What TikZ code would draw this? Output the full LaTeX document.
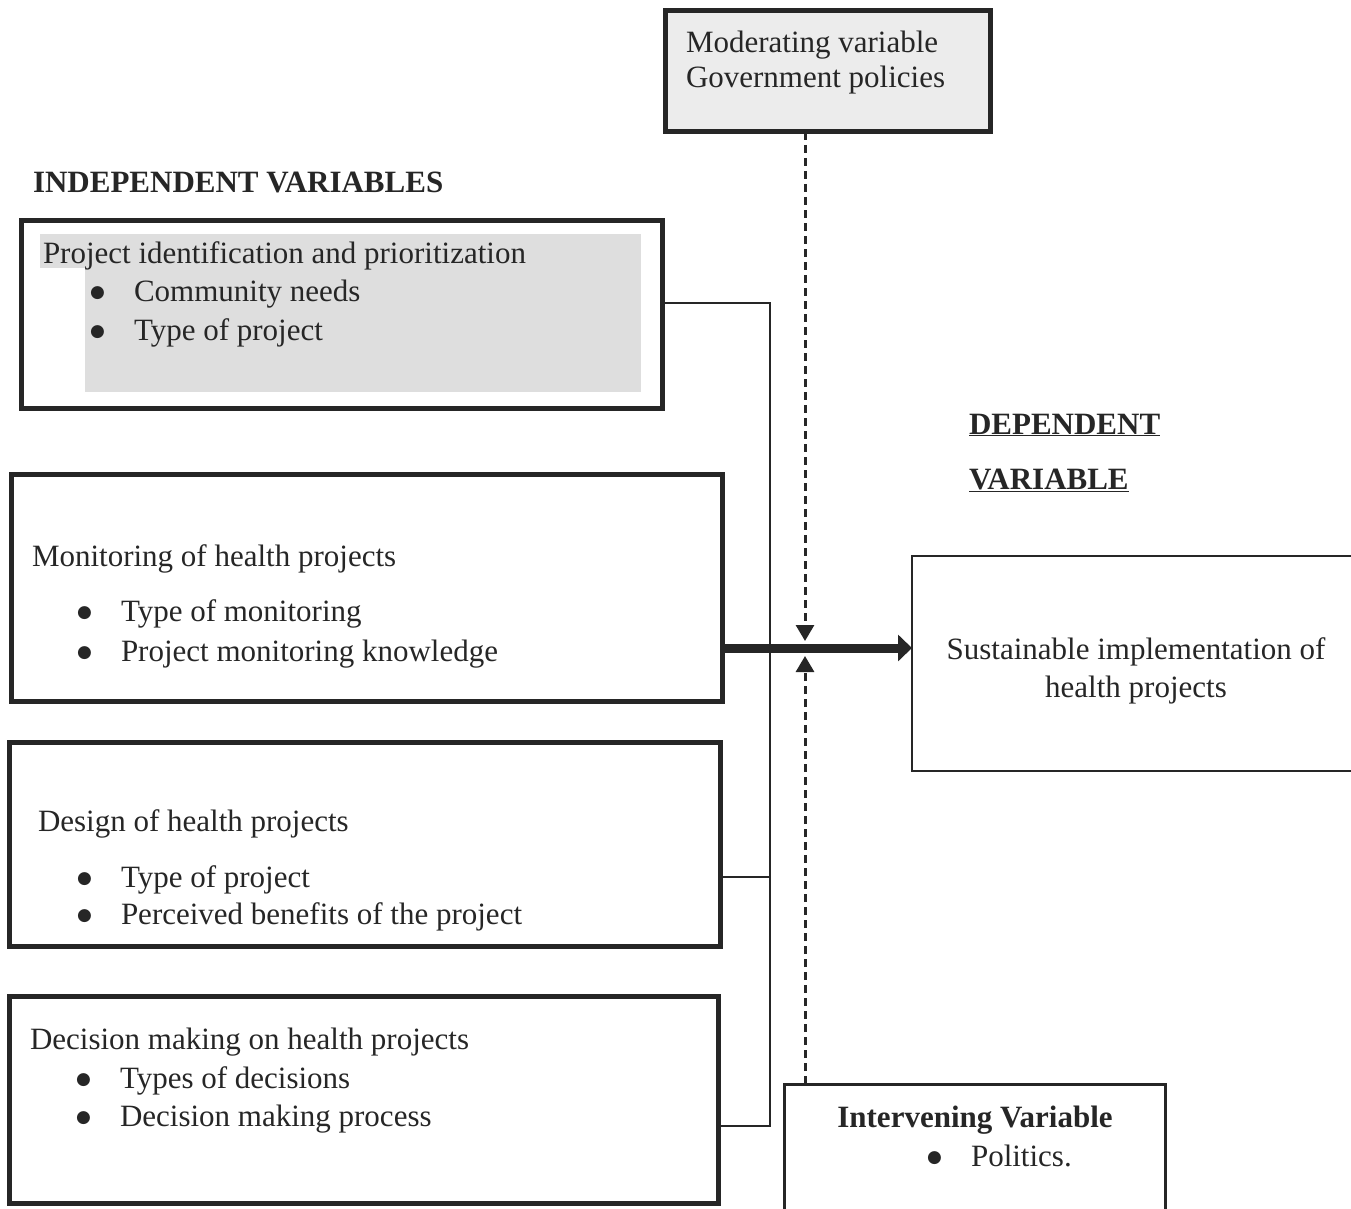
\documentclass[tikz,border=0pt]{standalone}
\usepackage{fontspec}
\setmainfont{Liberation Serif}
\newfontfamily\symfont{DejaVu Sans}
\usetikzlibrary{arrows.meta}
\definecolor{ink}{HTML}{262626}
\definecolor{modfill}{HTML}{ECECEC}
\definecolor{panelgray}{HTML}{DEDEDE}
\newcommand{\bitem}[1]{\makebox[44pt][l]{\raisebox{4pt}{\symfont\fontsize{17}{17}\selectfont ●}}#1}
\tikzset{
  txt/.style={anchor=base west},
  heavybox/.style={draw=ink, line width=5pt},
  lightbox/.style={draw=ink, line width=2.5pt},
  conn/.style={draw=ink, line width=2pt},
  dashline/.style={draw=ink, line width=3pt, dash pattern=on 8pt off 5pt},
  bigarrow/.style={draw=ink, line width=9pt, -{Triangle[width=26pt,length=14pt]}},
  smalltip/.style={-{Triangle[width=18pt,length=16pt]}}
}
\begin{document}
\begin{tikzpicture}[x=1pt,y=-1pt,
  every node/.style={inner sep=0pt, outer sep=0pt, text=ink, font=\fontsize{31}{37}\selectfont}]
\useasboundingbox (0,0) rectangle (1351,1209);

% shading of first box
\fill[panelgray] (40,234) rectangle (641,268);
\fill[panelgray] (85,234) rectangle (641,392);

% boxes
\node[heavybox, fill=modfill, minimum width=325pt, minimum height=121pt] (mod) at (827.5,71.5) {};
\node[heavybox, minimum width=641pt, minimum height=188pt] (b1) at (341.5,314) {};
\node[heavybox, minimum width=711pt, minimum height=227pt] (b2) at (366.5,587.5) {};
\node[heavybox, minimum width=711pt, minimum height=204pt] (b3) at (364.5,844) {};
\node[heavybox, minimum width=709pt, minimum height=207pt] (b4) at (363.5,1099.5) {};
\node[lightbox, minimum width=453pt, minimum height=215pt] (b5) at (1138.5,663.5) {};
\node[lightbox, line width=3pt, minimum width=381pt, minimum height=136pt] (b6) at (974.5,1152) {};

% connectors
\coordinate (j1) at (770,303);
\coordinate (j3) at (770,877);
\coordinate (j4) at (770,1126);
\draw[conn] (b1.east |- j1) -- (j1) -- (j4) -- (b4.east |- j4);
\draw[conn] (b3.east |- j3) -- (j3);

\coordinate (ay) at (0,648);
\draw[bigarrow] (b2.east |- ay) -- (b5.west |- ay);

\coordinate (dx) at (805,0);
\coordinate (tipT) at (805,641);
\coordinate (tipB) at (805,656);
\draw[dashline, smalltip] (mod.south -| dx) -- (tipT);
\draw[dashline, smalltip] (b6.north -| dx) -- (tipB);

% texts
\node[txt] (m1) at (686,53) {Moderating variable};
\node[txt] (m2) at (686,88) {Government policies};

\node[txt, font=\fontsize{31}{37}\selectfont\bfseries] (indep) at (33,193) {INDEPENDENT VARIABLES};

\node[txt] (t1) at (43,263) {Project identification and prioritization};
\node[txt] (t1a) at (90,301) {\bitem{Community needs}};
\node[txt] (t1b) at (90,340) {\bitem{Type of project}};

\node[txt, font=\fontsize{31}{37}\selectfont\bfseries] (dep1) at (969,434) {\underline{DEPENDENT}};
\node[txt, font=\fontsize{31}{37}\selectfont\bfseries] (dep2) at (969,489) {\underline{VARIABLE}};

\node[txt] (t2) at (32,566) {Monitoring of health projects};
\node[txt] (t2a) at (77,621) {\bitem{Type of monitoring}};
\node[txt] (t2b) at (77,661) {\bitem{Project monitoring knowledge}};

\node[anchor=base] (t5a) at (1136,659) {Sustainable implementation of};
\node[anchor=base] (t5b) at (1136,697) {health projects};

\node[txt] (t3) at (38,831) {Design of health projects};
\node[txt] (t3a) at (77,887) {\bitem{Type of project}};
\node[txt] (t3b) at (77,924) {\bitem{Perceived benefits of the project}};

\node[txt] (t4) at (30,1049) {Decision making on health projects};
\node[txt] (t4a) at (76,1088) {\bitem{Types of decisions}};
\node[txt] (t4b) at (76,1126) {\bitem{Decision making process}};

\node[anchor=base, font=\fontsize{31}{37}\selectfont\bfseries] (t6) at (975,1127) {Intervening Variable};
\node[txt] (t6a) at (927,1166) {\bitem{Politics.}};
\end{tikzpicture}
\end{document}
